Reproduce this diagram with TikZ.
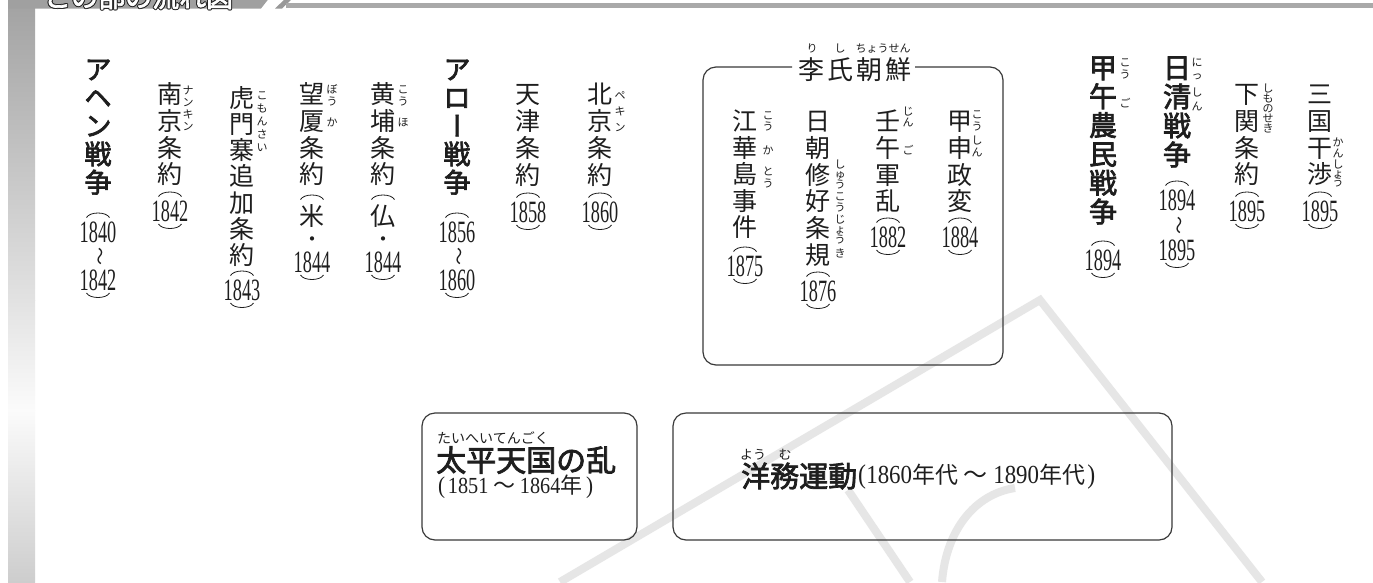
\documentclass[tikz,border=0pt]{standalone}
\usepackage{fontspec}
\setmainfont{Liberation Serif}
\newfontfamily\jp{Noto Sans CJK JP}
\newfontfamily\jpb[FakeBold=2.5]{Noto Sans CJK JP}
\newfontfamily\numc[FakeStretch=0.59]{Liberation Serif}
\newfontfamily\numn[FakeStretch=0.88]{Liberation Serif}
\definecolor{ink}{HTML}{1E1E1E}
\definecolor{boxc}{HTML}{3A3A3A}
\definecolor{wm}{HTML}{E6E6E6}
\definecolor{band}{HTML}{A0A0A0}
\definecolor{bandline}{HTML}{A9A9A9}
\definecolor{barA}{HTML}{A2A2A2}
\definecolor{barB}{HTML}{E2E2E2}
\definecolor{barC}{HTML}{FBFBFB}
\definecolor{barD}{HTML}{CDCDCD}
\tikzset{
  reg/.style={font=\jp\fontsize{25}{25}\selectfont, inner sep=0pt, text=ink, text height=22pt, text depth=3pt},
  dotc/.style={font=\jp\fontsize{20}{20}\selectfont, inner sep=0pt, text=ink, text height=17.6pt, text depth=2.4pt},
  hvy/.style={font=\jpb\fontsize{27}{27}\selectfont, inner sep=0pt, text=ink, text height=23.76pt, text depth=3.24pt},
  hvyb/.style={font=\jpb\fontsize{28}{28}\selectfont, inner sep=0pt, text=ink, text height=24.64pt, text depth=3.36pt},
  rb/.style={font=\jp\fontsize{11}{11}\selectfont, inner sep=0pt, text=ink, text height=9.68pt, text depth=1.32pt},
  yr/.style={font=\numc\fontsize{31}{31}\selectfont, inner sep=0pt, text=ink},
  wave/.style={font=\jp\fontsize{18}{18}\selectfont, inner sep=0pt, text=ink, rotate=-90},
  paren/.style={draw=ink, line width=0.8pt},
  rbox/.style={draw=boxc, line width=1.2pt, rounded corners=13pt},
  wmline/.style={draw=wm, line width=8pt},
  hdr/.style={font=\jpb\fontsize{27}{27}\selectfont, inner sep=0pt, anchor=base west}
}
% vertical stack of characters: name, x, y of first, pitch, style, list
\newcommand{\vst}[6]{\foreach \c [count=\i] in {#6}{\node[#5] (#1-\i) at (#2,{#3+(\i-1)*(#4)}) {\c};}}
% ruby: name, x, list of char/y
\newcommand{\rub}[3]{\foreach \c/\yy [count=\i] in {#3}{\node[rb] (#1-r\i) at (#2,\yy) {\c};}}
% top arc (apex y) and bottom arc (lowest y)
\newcommand{\tarc}[2]{\draw[paren] ({#1-11.5},{#2+4.5}) .. controls ({#1-8},{#2-1.5}) and ({#1+8},{#2-1.5}) .. ({#1+11.5},{#2+4.5});}
\newcommand{\barc}[2]{\draw[paren] ({#1-11.5},{#2-4.5}) .. controls ({#1-8},{#2+1.5}) and ({#1+8},{#2+1.5}) .. ({#1+11.5},{#2-4.5});}
% single year in vertical parentheses: name, x, y centre, year
\newcommand{\yone}[4]{\tarc{#2}{#3-19}\node[yr] (#1) at (#2,#3) {#4};\barc{#2}{#3+17.5}}
% year range: name, x, y1, y2, year1, year2
\newcommand{\ytwo}[6]{\tarc{#2}{#3-19}\node[yr] (#1-a) at (#2,#3) {#5};
  \node[wave] (#1-w) at (#2,{(#3+#4)/2}) {〜};
  \node[yr] (#1-b) at (#2,#4) {#6};\barc{#2}{#4+17.5}}
\begin{document}
\begin{tikzpicture}[x=1pt,y=-1pt]
\useasboundingbox (0,0) rectangle (1373,582);
\fill[white] (0,0) rectangle (1373,582);
% watermark
\draw[wmline] (560,582) -- (1040,300) -- (1262,582);
\draw[wmline] (848,490) -- (910,582);
\draw[wmline] (942,582) .. controls (946,530) and (975,494) .. (1015,488);
% left bar
\shade[top color=barA, bottom color=barB] (8,0) rectangle (35,300.5);
\shade[top color=barB, bottom color=barC] (8,300) rectangle (35,410.5);
\shade[top color=barC, bottom color=barD] (8,410) rectangle (35,582);
% header
\begin{scope}
\clip (0,0) rectangle (1373,582);
\fill[band] (8,-20) -- (283.5,-20) -- (261,8.5) -- (8,8.5) -- cycle;
\fill[band!95!black] (275,8.5) -- (282,8.5) -- (292,-1) -- (285,-1) -- cycle;
\fill[bandline] (286,3.3) rectangle (1373,8.3);
\foreach \dx/\dy [count=\k] in {-1/0,1/0,0/-1,0/1,-0.7/-0.7,0.7/0.7,-0.7/0.7,0.7/-0.7}
  {\node[hdr, text=black!85] (hdo\k) at (44+\dx,7+\dy) {この部の流れ図};}
\node[hdr, text=white] (hd) at (44,7) {この部の流れ図};
\end{scope}

% ---- アヘン戦争
\vst{ahen}{98}{69}{28.3}{hvy}{ア,ヘ,ン,戦,争}
\ytwo{ahen-y}{98}{232}{280}{1840}{1842}
% ---- 南京条約
\vst{nk}{170}{94}{26.8}{reg}{南,京,条,約}
\rub{nk}{188}{ナ/90,ン/102,キ/114,ン/126}
\yone{nk-y}{170}{211}{1842}
% ---- 虎門寨追加条約
\vst{hm}{242}{97.5}{26.3}{reg}{虎,門,寨,追,加,条,約}
\rub{hm}{262}{こ/95,も/108,ん/121,さ/134,い/147}
\yone{hm-y}{242}{290}{1843}
% ---- 望厦条約
\vst{wx}{312}{94}{26.8}{reg}{望,厦,条,約}
\rub{wx}{332}{ぼ/89,う/101,か/122}
\tarc{312}{195}
\node[reg] (wx-c) at (312,216) {米};
\node[dotc] (wx-d) at (312,239) {・};
\node[yr] (wx-y) at (312,262) {1844};
\barc{312}{279.5}
% ---- 黄埔条約
\vst{hp}{383}{94}{26.8}{reg}{黄,埔,条,約}
\rub{hp}{403}{こ/89,う/101,ほ/122}
\tarc{383}{195}
\node[reg] (hp-c) at (383,216) {仏};
\node[dotc] (hp-d) at (383,239) {・};
\node[yr] (hp-y) at (383,262) {1844};
\barc{383}{279.5}
% ---- アロー戦争
\vst{ar}{457}{69}{28.3}{hvy}{ア,ロ}
\node[hvy, rotate=-90] (ar-3) at (457,125.6) {ー};
\vst{arb}{457}{153.9}{28.3}{hvy}{戦,争}
\ytwo{ar-y}{457}{232}{280}{1856}{1860}
% ---- 天津条約
\vst{tj}{528}{94}{27}{reg}{天,津,条,約}
\yone{tj-y}{528}{212}{1858}
% ---- 北京条約
\vst{bj}{600}{94}{27}{reg}{北,京,条,約}
\rub{bj}{620}{ペ/95,キ/111,ン/127}
\yone{bj-y}{600}{212}{1860}

% ---- 李氏朝鮮 box
\draw[rbox] (792,67) -- (703,67) -- (703,365) -- (1003,365) -- (1003,67) -- (915,67);
\foreach \c/\xx [count=\i] in {李/811,氏/840,朝/869,鮮/898}
  {\node[reg, font=\jp\fontsize{26}{26}\selectfont] (ls-\i) at (\xx,70) {\c};}
\node[rb] (ls-r1) at (812,48) {り};
\node[rb] (ls-r2) at (840,48) {し};
\node[rb] (ls-r3) at (883,48) {ちょうせん};
% 江華島事件
\vst{kh}{745}{121}{26.6}{reg}{江,華,島,事,件}
\rub{kh}{768}{こ/115,う/126,か/150,と/171,う/183}
\yone{kh-y}{745}{266}{1875}
% 日朝修好条規
\vst{nc}{818}{121}{26.8}{reg}{日,朝,修,好,条,規}
\rub{nc}{840}{し/164,ゅ/174,う/184,こ/196,う/207,じ/219,ょ/229,う/239,き/253}
\yone{nc-y}{818}{291}{1876}
% 壬午軍乱
\vst{im}{888}{121}{26.8}{reg}{壬,午,軍,乱}
\rub{im}{908}{じ/111,ん/122,ご/150}
\yone{im-y}{888}{237}{1882}
% 甲申政変
\vst{ks}{960}{121}{26.8}{reg}{甲,申,政,変}
\rub{ks}{977}{こ/114,う/126,し/140,ん/152}
\yone{ks-y}{960}{237}{1884}

% ---- 甲午農民戦争
\vst{dh}{1103}{67.5}{28.8}{hvyb}{甲,午,農,民,戦,争}
\rub{dh}{1125}{こ/62,う/74,ご/103}
\yone{dh-y}{1103}{260}{1894}
% ---- 日清戦争
\vst{sj}{1177}{67.5}{29}{hvyb}{日,清,戦,争}
\rub{sj}{1197}{に/62,っ/75,し/92,ん/106}
\ytwo{sj-y}{1177}{200}{250}{1894}{1895}
% ---- 下関条約
\vst{sm}{1247}{94}{26.8}{reg}{下,関,条,約}
\rub{sm}{1268}{し/88,も/98,の/108,せ/118,き/128}
\yone{sm-y}{1247}{211}{1895}
% ---- 三国干渉
\vst{sg}{1320}{94}{26.8}{reg}{三,国,干,渉}
\rub{sg}{1338}{か/142,ん/153,し/164,ょ/173,う/182}
\yone{sg-y}{1320}{211}{1895}

% ---- 太平天国の乱
\draw[rbox] (422,413) rectangle (637,540);
\node[font=\jp\fontsize{14}{14}\selectfont, inner sep=0pt, text=ink, anchor=west] (tp-r) at (437,438) {たいへいてんごく};
\node[font=\jpb\fontsize{30}{30}\selectfont, inner sep=0pt, text=ink, anchor=west, text height=26.4pt, text depth=3.6pt] (tp) at (436,460) {太平天国の乱};
\node[font=\numn\fontsize{23}{23}\selectfont, inner sep=0pt, text=ink, anchor=west] (tp-s) at (438,487)
  {\makebox[11pt][l]{\fontsize{24}{24}\selectfont (}\makebox[38pt]{1851}\makebox[34pt]{\jp\fontsize{22}{22}\selectfont 〜}\makebox[38pt]{1864}\makebox[24pt]{\jp\fontsize{22}{22}\selectfont 年}\makebox[10pt][r]{\fontsize{24}{24}\selectfont )}};
% ---- 洋務運動
\draw[rbox] (673,413) rectangle (1172,540);
\node[font=\jp\fontsize{13}{13}\selectfont, inner sep=0pt, text=ink] (ym-r1) at (753,455) {よう};
\node[font=\jp\fontsize{13}{13}\selectfont, inner sep=0pt, text=ink] (ym-r2) at (785,455) {む};
\node[font=\jpb\fontsize{29}{29}\selectfont, inner sep=0pt, text=ink, anchor=west, text height=25.5pt, text depth=3.5pt] (ym) at (741,476) {洋務運動};
\node[font=\numn\fontsize{26}{26}\selectfont, inner sep=0pt, text=ink, anchor=west] (ym-s) at (858,477)
  {\makebox[8pt][l]{\fontsize{27}{27}\selectfont (}\makebox[46pt]{1860}\makebox[23pt]{\jp\fontsize{23}{23}\selectfont 年}\makebox[23pt]{\jp\fontsize{23}{23}\selectfont 代}\makebox[35pt]{\jp\fontsize{24}{24}\selectfont 〜}\makebox[46pt]{1890}\makebox[23pt]{\jp\fontsize{23}{23}\selectfont 年}\makebox[23pt]{\jp\fontsize{23}{23}\selectfont 代}\makebox[10pt][r]{\fontsize{27}{27}\selectfont )}};
\end{tikzpicture}
\end{document}
